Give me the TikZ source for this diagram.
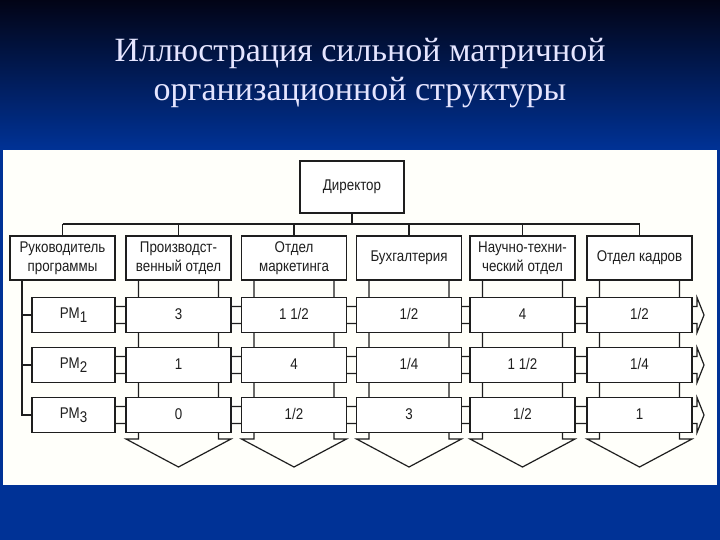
\documentclass[tikz,border=0pt]{standalone}
\usepackage{fontspec}
\setmainfont{Liberation Serif}
\newfontfamily\narrowsf[FakeStretch=0.86]{Liberation Sans}
\usetikzlibrary{positioning}
\definecolor{bgtop}{RGB}{2,4,22}
\definecolor{bgbot}{RGB}{0,50,150}
\definecolor{ink}{RGB}{30,30,30}
\tikzset{
  ttl/.style ={font=\fontsize{34}{39}\selectfont, text=white!90!blue,
               align=center},
  unit/.style={draw=ink, line width=1.5pt, fill=white, inner sep=0pt,
               font=\narrowsf\fontsize{15.5}{19}\selectfont, text=ink,
               align=center},
  dept/.style={unit, minimum width=105pt, minimum height=44pt},
  cell/.style={unit, minimum width=105pt, minimum height=35pt,
               text height=11pt, text depth=3pt},
  pmbox/.style={unit, minimum width=83pt, minimum height=35pt},
  wire/.style={draw=ink, line width=1.5pt},
  band/.style={draw=ink, line width=1.2pt},
}
\newcommand{\pmsub}[1]{PM\raisebox{-4pt}{#1}}

\begin{document}
\begin{tikzpicture}[x=1pt, y=-1pt]
  \useasboundingbox (0,0) rectangle (720,540);
  % slide background
  \shade[top color=bgtop, bottom color=bgbot] (0,0) rectangle (720,150);
  \fill[bgbot] (0,150) rectangle (720,540);
  \fill[white!98!yellow] (3,150) rectangle (717,485);
  \node[ttl] (title) at (360,73)
    {Иллюстрация сильной матричной\\организационной структуры};

  % column bands with their arrow heads
  \draw[band] (138.5,280) -- (138.5,439) -- (126,439) -- (178.5,467)
    -- (231,439) -- (218.5,439) -- (218.5,280);
  \draw[band] (254,280) -- (254,439) -- (241.5,439) -- (294,467)
    -- (346.5,439) -- (334,439) -- (334,280);
  \draw[band] (369,280) -- (369,439) -- (356.5,439) -- (409,467)
    -- (461.5,439) -- (449,439) -- (449,280);
  \draw[band] (482.5,280) -- (482.5,439) -- (470,439) -- (522.5,467)
    -- (575,439) -- (562.5,439) -- (562.5,280);
  \draw[band] (599.5,280) -- (599.5,439) -- (587,439) -- (639.5,467)
    -- (692,439) -- (679.5,439) -- (679.5,280);
  % row bands
  \draw[band] (115,306.5) -- (697,306.5) -- (697,297.5) -- (704,315)
    -- (697,332.5) -- (697,323.5) -- (115,323.5);
  \draw[band] (115,356.5) -- (697,356.5) -- (697,347.5) -- (704,365)
    -- (697,382.5) -- (697,373.5) -- (115,373.5);
  \draw[band] (115,406.5) -- (697,406.5) -- (697,397.5) -- (704,415)
    -- (697,432.5) -- (697,423.5) -- (115,423.5);

  \node[unit, minimum width=104pt, minimum height=52pt] (dir) at (352,187)
    {Директор};
  \node[dept] (d1) at (62.5,258)  {Руководитель\\программы};
  \node[dept] (d2) at (178.5,258) {Производст-\\венный отдел};
  \node[dept] (d3) at (294,258)   {Отдел\\маркетинга};
  \node[dept] (d4) at (409,258)   {Бухгалтерия};
  \node[dept] (d5) at (522.5,258) {Научно-техни-\\ческий отдел};
  \node[dept] (d6) at (639.5,258) {Отдел кадров};

  \node[pmbox] (pm1) at (73.5,315) {\pmsub{1}};
  \node[pmbox] (pm2) at (73.5,365) {\pmsub{2}};
  \node[pmbox] (pm3) at (73.5,415) {\pmsub{3}};

  \node[cell] (c12) at (178.5,315) {3};
  \node[cell] (c13) at (294,315)   {1 1/2};
  \node[cell] (c14) at (409,315)   {1/2};
  \node[cell] (c15) at (522.5,315) {4};
  \node[cell] (c16) at (639.5,315) {1/2};
  \node[cell] (c22) at (178.5,365) {1};
  \node[cell] (c23) at (294,365)   {4};
  \node[cell] (c24) at (409,365)   {1/4};
  \node[cell] (c25) at (522.5,365) {1 1/2};
  \node[cell] (c26) at (639.5,365) {1/4};
  \node[cell] (c32) at (178.5,415) {0};
  \node[cell] (c33) at (294,415)   {1/2};
  \node[cell] (c34) at (409,415)   {3};
  \node[cell] (c35) at (522.5,415) {1/2};
  \node[cell] (c36) at (639.5,415) {1};

  % line of command
  \coordinate (bus) at (0,224);
  \coordinate (spine) at (22,0);
  \draw[wire] (dir.south) -- (dir.south |- bus);
  \draw[wire] (d1.north |- bus) -- (d6.north |- bus);
  \draw[wire] (d1.north) -- (d1.north |- bus);
  \draw[wire] (d2.north) -- (d2.north |- bus);
  \draw[wire] (d3.north) -- (d3.north |- bus);
  \draw[wire] (d4.north) -- (d4.north |- bus);
  \draw[wire] (d5.north) -- (d5.north |- bus);
  \draw[wire] (d6.north) -- (d6.north |- bus);
  \draw[wire] (d1.south -| spine) -- (pm3.west -| spine) -- (pm3.west);
  \draw[wire] (pm1.west -| spine) -- (pm1.west);
  \draw[wire] (pm2.west -| spine) -- (pm2.west);
\end{tikzpicture}
\end{document}
